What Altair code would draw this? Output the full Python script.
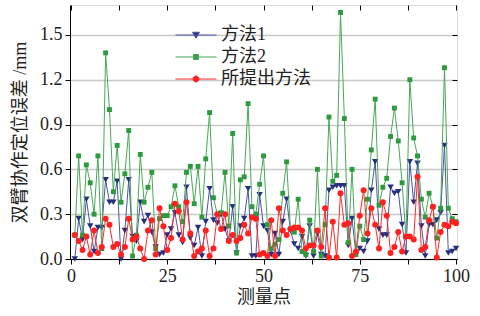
import altair as alt
import pandas as pd

# ---------------- data ----------------
x_vals = list(range(1, 101))

m1 = [0.00, 0.27, 0.13, 0.40, 0.22, 0.05, 0.21, 0.21, 0.53, 0.38,
      0.38, 0.52, 0.00, 0.19, 0.53, 0.15, 0.12, 0.38, 0.25, 0.29,
      0.18, 0.08, 0.03, 0.04, 0.16, 0.20, 0.31, 0.16, 0.11, 0.48,
      0.14, 0.09, 0.21, 0.02, 0.25, 0.47, 0.26, 0.24, 0.30, 0.20,
      0.12, 0.35, 0.04, 0.22, 0.27, 0.47, 0.02, 0.02, 0.43, 0.22,
      0.19, 0.03, 0.17, 0.03, 0.25, 0.40, 0.19, 0.10, 0.07, 0.15,
      0.02, 0.22, 0.02, 0.17, 0.03, 0.02, 0.46, 0.48, 0.49, 0.49,
      0.49, 0.09, 0.27, 0.03, 0.07, 0.05, 0.12, 0.46, 0.65, 0.20,
      0.16, 0.16, 0.48, 0.44, 0.45, 0.23, 0.04, 0.65, 0.38, 0.64,
      0.22, 0.02, 0.23, 0.23, 0.26, 0.31, 0.76, 0.04, 0.05, 0.07]

m2 = [0.16, 0.69, 0.16, 0.63, 0.51, 0.30, 0.69, 0.07, 1.38, 1.00,
      0.45, 0.76, 0.38, 0.57, 0.86, 0.02, 0.16, 0.70, 0.38, 0.48,
      0.58, 0.07, 0.27, 0.29, 0.29, 0.35, 0.49, 0.35, 0.25, 0.58,
      0.62, 0.37, 0.62, 0.28, 0.67, 0.98, 0.41, 0.30, 0.31, 0.58,
      0.22, 0.84, 0.04, 0.53, 0.55, 1.04, 0.35, 0.30, 0.50, 0.69,
      0.23, 0.07, 0.10, 0.13, 0.44, 0.65, 0.20, 0.18, 0.40, 0.05,
      0.03, 0.26, 0.05, 0.60, 0.02, 0.23, 0.95, 0.52, 0.56, 1.65,
      0.94, 0.11, 0.60, 0.03, 0.22, 0.13, 0.40, 0.73, 1.07, 0.36,
      0.48, 0.54, 0.82, 1.01, 0.79, 0.51, 0.15, 1.20, 0.81, 0.69,
      0.40, 0.28, 0.44, 0.35, 0.14, 0.34, 1.28, 0.34, 0.27, 0.25]

m3 = [0.16, 0.12, 0.06, 0.15, 0.03, 0.19, 0.04, 0.08, 0.27, 0.23,
      0.08, 0.10, 0.03, 0.08, 0.27, 0.13, 0.15, 0.07, 0.00, 0.19,
      0.26, 0.03, 0.34, 0.22, 0.06, 0.14, 0.37, 0.32, 0.13, 0.38,
      0.17, 0.02, 0.05, 0.07, 0.19, 0.02, 0.07, 0.30, 0.20, 0.30,
      0.12, 0.16, 0.12, 0.14, 0.23, 0.17, 0.28, 0.27, 0.03, 0.04,
      0.02, 0.26, 0.02, 0.34, 0.19, 0.16, 0.20, 0.21, 0.21, 0.19,
      0.07, 0.09, 0.09, 0.19, 0.08, 0.34, 0.01, 0.25, 0.01, 0.44,
      0.23, 0.24, 0.02, 0.05, 0.29, 0.46, 0.17, 0.34, 0.23, 0.07,
      0.38, 0.29, 0.04, 0.08, 0.18, 0.05, 0.15, 0.15, 0.13, 0.55,
      0.06, 0.08, 0.26, 0.35, 0.01, 0.18, 0.23, 0.22, 0.25, 0.24]

names = ["方法1", "方法2", "所提出方法"]
x_ticks = [0, 12.5, 25, 37.5, 50, 62.5, 75, 87.5, 100]
y_ticks = [0.0, 0.3, 0.6, 0.9, 1.2, 1.5]

# ---------------- styles ----------------
line_colors = ["#4b55a0", "#48a856", "#ff2b2b"]
mark_colors = ["#26307e", "#2e9a3e", "#ff2020"]
shapes = ["triangle-down", "square", "circle"]
sizes = [42, 24, 36]
legend_paths = [
    "M-4.1,0H4.1M-0.7,-0.55H0.7L0,0.65Z",
    "M-4.1,0H4.1M-0.5,-0.5H0.5V0.5H-0.5Z",
    "M-4.1,0H4.1M-0.6,0A0.6,0.6,0,1,0,0.6,0A0.6,0.6,0,1,0,-0.6,0Z",
]

FONT = "Liberation Serif, Noto Sans CJK SC"
TXT = "#222222"
W, H = 387, 254

rows = []
for name, vals in zip(names, [m1, m2, m3]):
    for xv, yv in zip(x_vals, vals):
        rows.append({"x": xv, "y": yv, "s": name})
df = pd.DataFrame(rows)

xscale = alt.Scale(domain=[-0.25, 100.25], nice=False, zero=False)
yscale = alt.Scale(domain=[0, 1.7], nice=False)

x_axis = alt.Axis(
    values=x_ticks, labelExpr="datum.value % 25 == 0 ? datum.label : ''",
    format="d", grid=False, tickSize=5, tickColor="black", domainColor="black",
    labelFont=FONT, labelFontSize=18, labelColor=TXT, labelPadding=3,
    labelFlush=False, labelOverlap=False,
    title="测量点", titleFont=FONT, titleFontSize=18, titleFontWeight="normal",
    titleColor=TXT, titlePadding=3,
)
y_axis = alt.Axis(
    values=y_ticks, format=".1f", grid=True, gridColor="#c8c8c8", gridWidth=1.5,
    tickSize=5, tickColor="black", domainColor="black",
    labelFont=FONT, labelFontSize=18, labelColor=TXT, labelPadding=3,
    labelFlush=False,
    title="双臂协作定位误差 /mm", titleFont=FONT, titleFontSize=18,
    titleFontWeight="normal", titleColor=TXT, titlePadding=10,
)
top_axis = alt.Axis(orient="bottom", offset=-H, values=x_ticks, labels=False,
                    domain=False, grid=False, tickSize=5, tickColor="black", title=None)
right_axis = alt.Axis(orient="left", offset=-W, values=y_ticks, labels=False,
                      domain=False, grid=False, tickSize=5, tickColor="black", title=None)

base = alt.Chart(df)
layers = []
first = True
for name, lc, mc, sh, sz in zip(names, line_colors, mark_colors, shapes, sizes):
    sub = base.transform_filter(alt.datum.s == name)
    xa = x_axis if first else None
    ya = y_axis if first else None
    layers.append(sub.mark_line(color=lc, strokeWidth=1).encode(
        x=alt.X("x:Q", scale=xscale, axis=xa),
        y=alt.Y("y:Q", scale=yscale, axis=ya),
    ))
    layers.append(sub.mark_point(filled=True, color=mc, shape=sh, size=sz, opacity=1).encode(
        x=alt.X("x:Q", scale=xscale, axis=None),
        y=alt.Y("y:Q", scale=yscale, axis=None),
    ))
    first = False

leg = alt.Legend(
    title=None, orient="none", legendX=117, legendY=21, symbolSize=100,
    symbolStrokeWidth=1, labelOffset=16, rowPadding=4, padding=0,
    labelFont=FONT, labelFontSize=18, labelColor=TXT, labelLimit=300,
)
legend_layer = base.transform_filter("datum.x < -1000").mark_point(filled=True, opacity=1).encode(
    x=alt.X("x:Q", scale=xscale, axis=top_axis),
    y=alt.Y("y:Q", scale=yscale, axis=right_axis),
    fill=alt.Fill("s:N", scale=alt.Scale(domain=names, range=mark_colors), legend=leg),
    stroke=alt.Stroke("s:N", scale=alt.Scale(domain=names, range=line_colors), legend=leg),
    shape=alt.Shape("s:N", scale=alt.Scale(domain=names, range=legend_paths), legend=leg),
)

chart = alt.layer(*layers, legend_layer).resolve_axis(
    x="independent", y="independent"
).properties(
    width=W, height=H,
    autosize=alt.AutoSizeParams(type="none"),
    padding={"left": 70, "top": 5, "right": 23, "bottom": 57},
).configure_view(stroke="black", strokeWidth=1).configure(background="white")

chart.save("out.html", embed_options={"renderer": "svg", "actions": False})
